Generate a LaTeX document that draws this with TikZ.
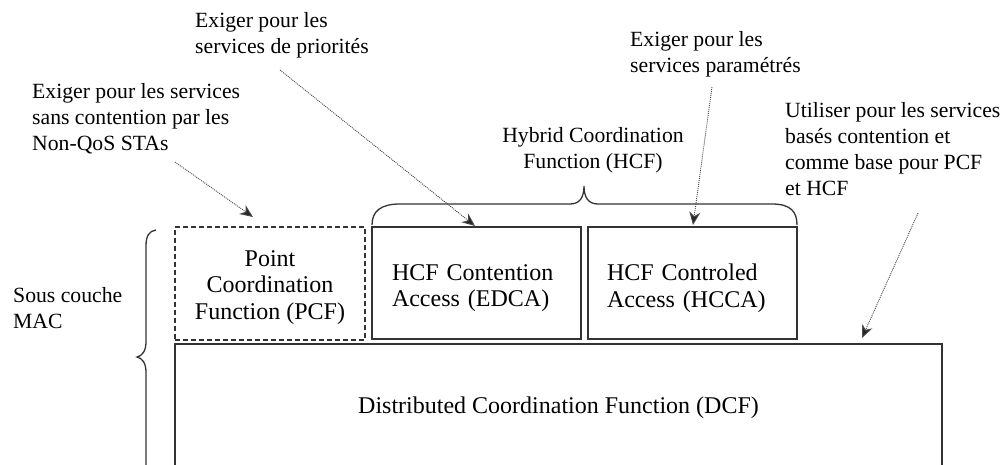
\documentclass[tikz,border=0pt]{standalone}
\usepackage{fontspec}
\setmainfont{Liberation Serif}
\usetikzlibrary{arrows.meta}
\begin{document}
\begin{tikzpicture}[x=1pt, y=-1pt,
  note/.style={font=\fontsize{21.7}{26}\selectfont, align=left, inner sep=0pt, anchor=base west},
  block/.style={draw=black!80, line width=1.4pt, inner sep=0pt},
  dashblock/.style={block, dash pattern=on 5pt off 3pt},
  blocktext/.style={font=\fontsize{24}{26.5}\selectfont, inner sep=0pt},
  bracepath/.style={draw=black!80, line width=1.3pt},
  pointer/.style={draw=black!70, line width=0.9pt, dash pattern=on 1pt off 1pt,
    -{Stealth[length=13pt, width=11pt, inset=4pt, fill=black!85]}}
]
\clip (0,0) rectangle (1003,464);

% layer blocks, each with its caption set a little below the centre
\node[dashblock, minimum width=190, minimum height=113,
  label={[blocktext, align=center, yshift=-4pt]center:Point\\Coordination\\Function (PCF)}]
  (pcf) at (270,283.5) {};
\node[block, minimum width=209, minimum height=112,
  label={[blocktext, align=left, text width=169pt, yshift=-5pt]center:HCF Contention\\Access (EDCA)}]
  (edca) at (476.5,283) {};
\node[block, minimum width=209, minimum height=112,
  label={[blocktext, align=left, text width=171pt, yshift=-5pt]center:HCF Controled\\Access (HCCA)}]
  (hcca) at (692.5,283) {};
\node[block, minimum width=767, minimum height=126,
  label={[blocktext, yshift=-1pt]center:Distributed Coordination Function (DCF)}]
  (dcf) at (558.5,407) {};

% braces
\draw[bracepath] (372,225) .. controls (372,211) and (381,204) .. (400,204)
  -- (570,204) .. controls (580,204) and (584,197) .. (584,186)
  .. controls (584,197) and (588,204) .. (598,204)
  -- (772,204) .. controls (791,204) and (797,212) .. (797,225);
\draw[bracepath] (156,230) .. controls (149,231) and (146,236) .. (146,246)
  -- (146,342) .. controls (146,351) and (142,356) .. (137,357)
  .. controls (142,358) and (146,363) .. (146,372)
  -- (146,468) .. controls (146,478) and (149,483) .. (156,484);

% labels (placed by the baseline of their last line)
\node[note] (mac) at (13,328) {Sous couche\\MAC};
\node[note, align=center, anchor=base] (hcf) at (593,168) {Hybrid Coordination\\Function (HCF)};
\node[note] (n1) at (32,150) {Exiger pour les services\\sans contention par les\\Non-QoS STAs};
\node[note] (n2) at (195,53) {Exiger pour les\\services de priorités};
\node[note] (n3) at (630,72) {Exiger pour les\\services paramétrés};
\node[note] (n4) at (785,195) {Utiliser pour les services\\basés contention et\\comme base pour PCF\\et HCF};

% pointers
\coordinate (s1) at (175,162); \coordinate (e1) at (253,217);
\coordinate (s2) at (280,70);  \coordinate (e2) at (475,226);
\coordinate (s3) at (712,87);  \coordinate (e3) at (693,225);
\coordinate (s4) at (918,213); \coordinate (e4) at (862,338);
\draw[pointer] (s1) -- (e1);
\draw[pointer] (s2) -- (e2);
\draw[pointer] (s3) -- (e3);
\draw[pointer] (s4) -- (e4);
\end{tikzpicture}
\end{document}
